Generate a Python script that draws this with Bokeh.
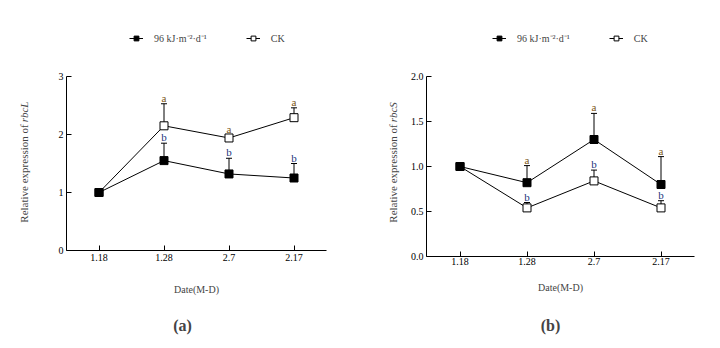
import math
from bokeh.plotting import figure
from bokeh.layouts import row, column
from bokeh.models import (ColumnDataSource, Whisker, TeeHead, Legend, LegendItem,
                          Label, FixedTicker, Range1d, FactorRange, PrintfTickFormatter)
from bokeh.core.properties import value
from bokeh.embed import file_html
from bokeh.resources import INLINE

# ---- data ----
dates = ["1.18", "1.28", "2.7", "2.17"]

rbcl_uvb = [1.00, 1.55, 1.32, 1.25]
rbcl_uvb_err = [0.0, 0.30, 0.27, 0.25]
rbcl_uvb_sig = ["", "b", "b", "b"]
rbcl_ck = [1.00, 2.15, 1.94, 2.29]
rbcl_ck_err = [0.0, 0.38, 0.06, 0.17]
rbcl_ck_sig = ["", "a", "a", "a"]

rbcs_uvb = [1.00, 0.82, 1.30, 0.80]
rbcs_uvb_err = [0.0, 0.19, 0.29, 0.31]
rbcs_uvb_sig = ["", "a", "a", "a"]
rbcs_ck = [1.00, 0.54, 0.84, 0.54]
rbcs_ck_err = [0.0, 0.06, 0.12, 0.08]
rbcs_ck_sig = ["", "b", "b", "b"]

series_names = ["96 kJ\u00b7m\u207b\u00b2\u00b7d\u207b\u00b9", "CK"]

FONT = "Liberation Serif"
SIG_COLORS = {"a": "#7a5416", "b": "#22347c"}
TOP_H = 60
TAG_H = 40
MID_H = 348 - TOP_H - TAG_H


def blank(width, height):
    f = figure(width=width, height=height, x_range=Range1d(0, width),
               y_range=Range1d(0, height), x_axis_type=None, y_axis_type=None,
               min_border=0, output_backend="svg", toolbar_location=None)
    f.grid.visible = False
    f.outline_line_color = None
    f.background_fill_color = "white"
    f.border_fill_color = "white"
    return f


def legend_fig(x0):
    f = blank(360, TOP_H)
    items = []
    # legend-only renderers: one hidden sample point outside the visible range
    hidden = ColumnDataSource(dict(x=[-100], y=[-100]))
    for name, fill in zip(series_names, ("black", "white")):
        lr = f.line("x", "y", source=hidden, line_color="black", line_width=1)
        sr = f.scatter("x", "y", source=hidden, marker="square", size=8, fill_color=fill,
                       line_color="black", line_width=1)
        items.append(LegendItem(label=name, renderers=[lr, sr]))
    f.add_layout(Legend(items=items, orientation="horizontal", location=(x0, 15),
                        padding=0, margin=0, spacing=39, label_standoff=11,
                        glyph_width=14, glyph_height=12, label_height=12,
                        border_line_color=None, background_fill_alpha=0,
                        label_text_font=FONT, label_text_font_size="10px"))
    return f


def ylabel_fig(gene, width, x, join_y):
    f = blank(width, MID_H)
    y = MID_H - (join_y - TOP_H)
    f.add_layout(Label(x=x, y=y, text="Relative expression of", angle=math.pi / 2,
                       text_align="right", text_baseline="middle",
                       text_font=FONT, text_font_size="11px"))
    f.add_layout(Label(x=x, y=y + 3, text=gene, angle=math.pi / 2,
                       text_font_style="italic", text_align="left", text_baseline="middle",
                       text_font=FONT, text_font_size="11px"))
    return f


def tag_fig(tag, x):
    f = blank(360, TAG_H)
    f.add_layout(Label(x=x, y=TAG_H - (325 - (348 - TAG_H)), text=tag,
                       text_align="center", text_baseline="middle",
                       text_font=FONT, text_font_size="16px", text_font_style="bold"))
    return f


def make_panel(uvb, uvb_err, uvb_sig, ck, ck_err, ck_sig, yticks, yfmt,
               left, frame_w, frame_h, top, right, tick_standoff, label_standoff):
    p = figure(x_range=FactorRange(*dates), y_range=Range1d(yticks[0], yticks[-1]),
               frame_width=frame_w, frame_height=frame_h,
               min_border_left=left, min_border_right=right,
               min_border_top=top, min_border_bottom=MID_H - top - frame_h,
               output_backend="svg", toolbar_location=None)
    p.outline_line_color = None
    p.grid.visible = False
    p.background_fill_color = "white"
    p.border_fill_color = "white"

    for ax in (p.xaxis[0], p.yaxis[0]):
        ax.axis_line_color = "black"
        ax.axis_line_width = 1
        ax.major_tick_in = 5
        ax.major_tick_out = 0
        ax.major_tick_line_color = "black"
        ax.minor_tick_line_color = None
        ax.major_label_text_font = FONT
        ax.major_label_text_font_size = "10px"
        ax.major_label_text_color = "black"
    p.yaxis.ticker = FixedTicker(ticks=yticks)
    p.yaxis.formatter = PrintfTickFormatter(format=yfmt)
    p.yaxis.major_label_standoff = 3
    p.xaxis.major_label_standoff = tick_standoff
    p.xaxis.axis_label = "Date(M-D)"
    p.xaxis.axis_label_text_font = FONT
    p.xaxis.axis_label_text_font_size = "10px"
    p.xaxis.axis_label_text_font_style = "normal"
    p.xaxis.axis_label_standoff = label_standoff

    def sig_source(vals, errs, sigs):
        idx = [i for i, s in enumerate(sigs) if s]
        return ColumnDataSource(dict(
            x=[dates[i] for i in idx],
            y=[vals[i] for i in idx],
            top=[vals[i] + errs[i] for i in idx],
            sig=[sigs[i] for i in idx],
            color=[SIG_COLORS[sigs[i]] for i in idx],
        ))

    for vals, errs, sigs, fill in ((ck, ck_err, ck_sig, "white"),
                                   (uvb, uvb_err, uvb_sig, "black")):
        src = ColumnDataSource(dict(x=dates, y=vals))
        ssrc = sig_source(vals, errs, sigs)
        p.add_layout(Whisker(source=ssrc, base="x", upper="top", lower="y",
                             dimension="height", line_color="black", line_width=1,
                             upper_head=TeeHead(size=6, line_color="black", line_width=1),
                             lower_head=None))
        p.line("x", "y", source=src, line_color="black", line_width=1)
        p.scatter("x", "y", source=src, marker="square", size=8,
                  fill_color=fill, line_color="black", line_width=1)
        p.text("x", "top", text="sig", source=ssrc, text_color="color",
               text_align="center", text_baseline="bottom",
               text_font=value(FONT), text_font_size="11px")
    return p


pa = make_panel(rbcl_uvb, rbcl_uvb_err, rbcl_uvb_sig,
                rbcl_ck, rbcl_ck_err, rbcl_ck_sig, [0, 1, 2, 3], "%d",
                left=26, frame_w=260, frame_h=174, top=69 - TOP_H, right=34,
                tick_standoff=3, label_standoff=20)
pb = make_panel(rbcs_uvb, rbcs_uvb_err, rbcs_uvb_sig,
                rbcs_ck, rbcs_ck_err, rbcs_ck_sig, [0.0, 0.5, 1.0, 1.5, 2.0], "%.1f",
                left=26, frame_w=268, frame_h=180, top=76 - TOP_H, right=26,
                tick_standoff=1, label_standoff=14)

layout = column(
    row(legend_fig(129), legend_fig(132)),
    row(ylabel_fig("rbcL", 40, 23, 131), pa, ylabel_fig("rbcS", 40, 32, 131), pb),
    row(tag_fig("(a)", 182), tag_fig("(b)", 190)),
)
open("out.html", "w").write(file_html(layout, INLINE))
